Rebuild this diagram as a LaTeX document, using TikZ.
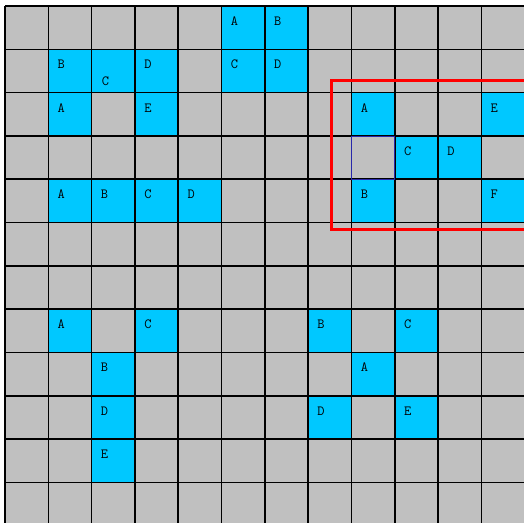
\documentclass[tikz,border=0pt]{standalone}
\definecolor{cellgray}{RGB}{192,192,192}
\definecolor{cellblue}{RGB}{0,200,255}
\definecolor{markblue}{RGB}{40,40,170}
\tikzset{
  bluecell/.style={fill=cellblue},
  celltag/.style={font=\ttfamily\fontsize{14}{14}\selectfont, inner sep=0pt},
  gridline/.style={draw=black, line width=1.6pt},
}
\begin{document}
\begin{tikzpicture}[x=43.3pt,y=-43.3pt]
\useasboundingbox (-0.1155,-0.1386) rectangle (11.986,11.917);
\clip (-0.1155,-0.1386) rectangle (11.986,11.917);
\fill[white] (-0.1155,-0.1386) rectangle (11.986,11.917);
\fill[cellgray] (0,0) rectangle (12,12);
% blue cells with their letters
\foreach \c/\r/\t in {5/0/A, 6/0/B,
    1/1/B, 3/1/D, 5/1/C, 6/1/D,
    1/2/A, 3/2/E, 8/2/A, 11/2/E,
    9/3/C, 10/3/D,
    1/4/A, 2/4/B, 3/4/C, 4/4/D, 8/4/B, 11/4/F,
    1/7/A, 3/7/C, 7/7/B, 9/7/C,
    2/8/B, 8/8/A,
    2/9/D, 7/9/D, 9/9/E,
    2/10/E} {
  \fill[bluecell] (\c,\r) rectangle ++(1,1);
  \node[celltag] (t-\c-\r) at (\c+0.3,\r+0.35) {\t};
}
\fill[bluecell] (2,1) rectangle ++(1,1);
\node[celltag] (t-2-1) at (2.32,1.74) {C};
% grid
\foreach \i in {0,...,12} {
  \draw[gridline] (\i,0) -- (\i,12);
  \draw[gridline] (0,\i) -- (12,\i);
}
% marked cell and frame
\draw[markblue, line width=0.8pt] (8,3) rectangle (9,4);
\draw[red, line width=3pt] (7.53,1.73) rectangle (12.5,5.15);
\end{tikzpicture}
\end{document}
